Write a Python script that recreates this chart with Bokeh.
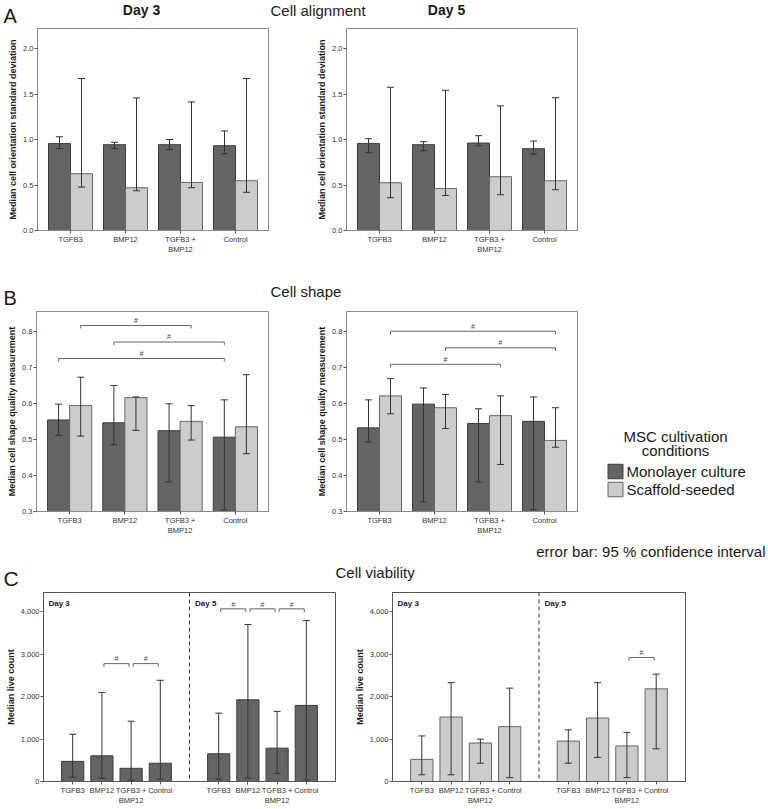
from bokeh.plotting import figure
from bokeh.models import (Range1d, FixedTicker, NumeralTickFormatter, ColumnDataSource,
                          Whisker, TeeHead, Span)
from bokeh.layouts import column, row
from bokeh.embed import file_html
from bokeh.resources import INLINE
from bokeh.core.properties import value

FONT = "Liberation Sans"
DARK = "#646464"
LIGHT = "#cccccc"
DARK_LINE = "#3c3c3c"
LIGHT_LINE = "#666666"
ERR = "#333333"

# ---------------- data ----------------
categories = ["TGFB3", "BMP12", "TGFB3 +\nBMP12", "Control"]
series = ["Monolayer culture", "Scaffold-seeded"]

# A: cell alignment (median cell orientation SD)
align_d3_mono = [0.955, 0.943, 0.943, 0.932]
align_d3_mono_lo = [0.90, 0.90, 0.89, 0.844]
align_d3_mono_hi = [1.03, 0.97, 1.00, 1.094]
align_d3_scaf = [0.624, 0.47, 0.528, 0.547]
align_d3_scaf_lo = [0.477, 0.437, 0.47, 0.42]
align_d3_scaf_hi = [1.67, 1.457, 1.413, 1.67]

align_d5_mono = [0.957, 0.943, 0.961, 0.899]
align_d5_mono_lo = [0.855, 0.877, 0.932, 0.84]
align_d5_mono_hi = [1.009, 0.976, 1.042, 0.983]
align_d5_scaf = [0.525, 0.462, 0.591, 0.547]
align_d5_scaf_lo = [0.36, 0.385, 0.393, 0.448]
align_d5_scaf_hi = [1.574, 1.541, 1.369, 1.46]

# B: cell shape quality
shape_d3_mono = [0.555, 0.547, 0.525, 0.507]
shape_d3_mono_lo = [0.512, 0.486, 0.383, 0.304]
shape_d3_mono_hi = [0.599, 0.651, 0.600, 0.611]
shape_d3_scaf = [0.595, 0.617, 0.551, 0.536]
shape_d3_scaf_lo = [0.51, 0.526, 0.499, 0.461]
shape_d3_scaf_hi = [0.674, 0.619, 0.595, 0.681]

shape_d5_mono = [0.533, 0.599, 0.545, 0.551]
shape_d5_mono_lo = [0.494, 0.327, 0.382, 0.305]
shape_d5_mono_hi = [0.611, 0.644, 0.586, 0.619]
shape_d5_scaf = [0.622, 0.589, 0.567, 0.498]
shape_d5_scaf_lo = [0.572, 0.531, 0.431, 0.479]
shape_d5_scaf_hi = [0.670, 0.626, 0.622, 0.589]

# significance brackets: (category from, series from, category to, series to, height)
shape_d3_sig = [(0, 1, 2, 1, 0.818), (1, 0, 3, 0, 0.772), (0, 0, 3, 0, 0.726)]
shape_d5_sig = [(0, 1, 3, 1, 0.802), (1, 1, 3, 1, 0.756), (0, 1, 2, 1, 0.710)]

# C: cell viability (median live count)
live_mono_d3 = [474, 604, 311, 430]
live_mono_d3_lo = [100, 75, 30, 53]
live_mono_d3_hi = [1112, 2098, 1420, 2383]
live_mono_d5 = [653, 1924, 785, 1791]
live_mono_d5_lo = [53, 80, 190, 34]
live_mono_d5_hi = [1609, 3697, 1651, 3792]

live_scaf_d3 = [521, 1518, 906, 1292]
live_scaf_d3_lo = [158, 158, 430, 91]
live_scaf_d3_hi = [1073, 2327, 997, 2198]
live_scaf_d5 = [952, 1495, 838, 2181]
live_scaf_d5_lo = [430, 566, 91, 770]
live_scaf_d5_hi = [1216, 2327, 1155, 2528]

# (day index, category from, category to, height)
live_mono_sig = [(0, 1, 2, 2775), (0, 2, 3, 2775), (1, 0, 1, 4065), (1, 1, 2, 4065), (1, 2, 3, 4065)]
live_scaf_sig = [(1, 2, 3, 2921)]

days = ["Day 3", "Day 5"]


# ---------------- helpers ----------------
def style_axes(p, ylabel):
    p.xgrid.visible = False
    p.ygrid.visible = False
    p.outline_line_color = "#8a8a8a"
    p.background_fill_color = "white"
    p.border_fill_color = "white"
    for ax in (p.xaxis[0], p.yaxis[0]):
        ax.axis_line_color = "#8a8a8a"
        ax.major_tick_line_color = "#555555"
        ax.major_tick_out = 3
        ax.major_tick_in = 0
        ax.minor_tick_line_color = None
        ax.major_label_text_font = FONT
        ax.major_label_text_font_size = "7.5px"
        ax.major_label_text_color = "#333333"
        ax.major_label_standoff = 1
    p.yaxis.axis_label = ylabel
    p.yaxis.axis_label_text_font = FONT
    p.yaxis.axis_label_text_font_style = "bold"
    p.yaxis.axis_label_text_font_size = "9px"
    p.yaxis.axis_label_text_color = "#1a1a1a"
    p.yaxis.axis_label_standoff = 2


def add_bars(p, xs, vals, lo, hi, width, fill, line):
    src = ColumnDataSource(dict(x=xs, top=vals, lo=lo, hi=hi))
    p.vbar(x="x", top="top", width=width, source=src, fill_color=fill, line_color=line, line_width=1)
    p.add_layout(Whisker(source=src, base="x", upper="hi", lower="lo", level="overlay",
                         line_color=ERR, line_width=1,
                         upper_head=TeeHead(size=7, line_color=ERR, line_width=1),
                         lower_head=TeeHead(size=7, line_color=ERR, line_width=1)))


def add_brackets(p, x1s, x2s, hs, tick, dy):
    xs = [[a, a, b, b] for a, b in zip(x1s, x2s)]
    ys = [[h - tick, h, h, h - tick] for h in hs]
    p.multi_line(xs=xs, ys=ys, line_color="#666666", line_width=1)
    p.text(x=[(a + b) / 2 for a, b in zip(x1s, x2s)], y=[h + dy for h in hs],
           text=["#"] * len(hs), text_font=value(FONT), text_font_size="7px",
           text_color="#444444", text_align="center", text_baseline="middle")


def grouped_panel(width, height, mbl, mbr, mbt, mbb, y0, y1, yticks, ylabel,
                  mono, mono_lo, mono_hi, scaf, scaf_lo, scaf_hi, sig=None):
    p = figure(width=width, height=height, x_range=Range1d(0.4, 4.6), y_range=Range1d(y0, y1),
               output_backend="svg", toolbar_location=None,
               min_border_left=mbl, min_border_right=mbr, min_border_top=mbt, min_border_bottom=mbb)
    style_axes(p, ylabel)
    pos = [i + 1 for i in range(len(categories))]
    offs = [-0.2, 0.2]
    add_bars(p, [x + offs[0] for x in pos], mono, mono_lo, mono_hi, 0.4, DARK, DARK_LINE)
    add_bars(p, [x + offs[1] for x in pos], scaf, scaf_lo, scaf_hi, 0.4, LIGHT, LIGHT_LINE)
    p.xaxis.ticker = FixedTicker(ticks=pos)
    p.xaxis.major_label_overrides = {x: c for x, c in zip(pos, categories)}
    p.yaxis.ticker = FixedTicker(ticks=yticks)
    p.yaxis.formatter = NumeralTickFormatter(format="0.0")
    if sig:
        x1s = [pos[c1] + offs[s1] for c1, s1, c2, s2, h in sig]
        x2s = [pos[c2] + offs[s2] for c1, s1, c2, s2, h in sig]
        hs = [h for *_, h in sig]
        add_brackets(p, x1s, x2s, hs, 0.0085, 0.014)
    return p


def live_panel(width, height, mbl, mbr, mbt, mbb, fill, line,
               d3, d3_lo, d3_hi, d5, d5_lo, d5_hi, sig):
    p = figure(width=width, height=height, x_range=Range1d(0, 10), y_range=Range1d(0, 4450),
               output_backend="svg", toolbar_location=None,
               min_border_left=mbl, min_border_right=mbr, min_border_top=mbt, min_border_bottom=mbb)
    style_axes(p, "Median live count")
    p.outline_line_color = "#555555"
    p.xaxis.axis_line_color = "#555555"
    p.yaxis.axis_line_color = "#555555"
    n = len(categories)
    pos = [[i + 1 + 5 * d for i in range(n)] for d in range(2)]
    add_bars(p, pos[0], d3, d3_lo, d3_hi, 0.76, fill, line)
    add_bars(p, pos[1], d5, d5_lo, d5_hi, 0.76, fill, line)
    p.add_layout(Span(location=5, dimension="height", line_dash="4 3", line_color="#333333", line_width=1))
    ticks = pos[0] + pos[1]
    p.xaxis.ticker = FixedTicker(ticks=ticks)
    p.xaxis.major_label_overrides = {x: c for x, c in zip(ticks, categories + categories)}
    p.yaxis.ticker = FixedTicker(ticks=[0, 1000, 2000, 3000, 4000])
    p.yaxis.formatter = NumeralTickFormatter(format="0,0")
    p.text(x=[0.17, 5.19], y=[4200, 4200], text=days, text_font=value(FONT),
           text_font_style="bold", text_font_size="8px", text_color="#1a1a1a",
           text_align="left", text_baseline="middle")
    if sig:
        x1s = [pos[d][c1] + 0.07 for d, c1, c2, h in sig]
        x2s = [pos[d][c2] - 0.07 for d, c1, c2, h in sig]
        hs = [h for *_, h in sig]
        add_brackets(p, x1s, x2s, hs, 75, 110)
    return p


def blank(width, height, x0, x1, ytop, ybot, mbt=0, mbb=0):
    p = figure(width=width, height=height, x_range=Range1d(x0, x1), y_range=Range1d(ybot, ytop),
               output_backend="svg", toolbar_location=None, x_axis_type=None, y_axis_type=None,
               min_border_left=0, min_border_right=0, min_border_top=mbt, min_border_bottom=mbb)
    p.grid.visible = False
    p.outline_line_color = None
    p.border_fill_color = "white"
    return p


def put_text(p, x, y, t, size, align="left", bold=False, color="#1a1a1a", baseline="middle"):
    p.text(x=[x], y=[y], text=[t], text_font=value(FONT), text_font_size=size,
           text_font_style="bold" if bold else "normal", text_color=color,
           text_align=align, text_baseline=baseline)


W = 766
# ---------------- headers (page pixel coordinates) ----------------
hA = blank(W, 27, 0, W, 0, 27)
put_text(hA, 3, 15, "A", "20px")
put_text(hA, 141, 9, days[0], "14px", "center", True)
put_text(hA, 446, 9, days[1], "14px", "center", True)
put_text(hA, 270, 10, "Cell alignment", "15px")

hB = blank(W, 30, 0, W, 280, 310)
put_text(hB, 3, 297.5, "B", "20px")
put_text(hB, 270, 291, "Cell shape", "15px")

hC = blank(W, 52, 0, W, 539, 591)
put_text(hC, 765, 551, "error bar: 95 % confidence interval", "15px", "right")
put_text(hC, 3, 577.5, "C", "21px")
put_text(hC, 335, 571.5, "Cell viability", "15px")

# ---------------- row A ----------------
ylab_a = "Median cell orientation standard deviation"
a_ticks = [0, 0.5, 1.0, 1.5, 2.0]
pAL = grouped_panel(300, 253, 37, 32, 1, 50, 0, 2.22, a_ticks, ylab_a,
                    align_d3_mono, align_d3_mono_lo, align_d3_mono_hi,
                    align_d3_scaf, align_d3_scaf_lo, align_d3_scaf_hi)
pAR = grouped_panel(300, 253, 46, 23, 1, 50, 0, 2.22, a_ticks, ylab_a,
                    align_d5_mono, align_d5_mono_lo, align_d5_mono_hi,
                    align_d5_scaf, align_d5_scaf_lo, align_d5_scaf_hi)

# ---------------- row B ----------------
ylab_b = "Median cell shape quality measurement"
b_ticks = [0.3, 0.4, 0.5, 0.6, 0.7, 0.8]
pBL = grouped_panel(300, 229, 36, 32, 1, 28, 0.3, 0.857, b_ticks, ylab_b,
                    shape_d3_mono, shape_d3_mono_lo, shape_d3_mono_hi,
                    shape_d3_scaf, shape_d3_scaf_lo, shape_d3_scaf_hi, shape_d3_sig)
pBR = grouped_panel(300, 229, 46, 23, 1, 28, 0.3, 0.857, b_ticks, ylab_b,
                    shape_d5_mono, shape_d5_mono_lo, shape_d5_mono_hi,
                    shape_d5_scaf, shape_d5_scaf_lo, shape_d5_scaf_hi, shape_d5_sig)

# legend panel: frame spans the same pixels as the panels' frames (y 311..511)
leg = blank(W - 600, 229, 600, W, 311, 511, mbt=1, mbb=28)
put_text(leg, 675, 435.5, "MSC cultivation", "15px", "center")
put_text(leg, 675, 449.5, "conditions", "15px", "center")
leg.rect(x=[615, 615], y=[471, 489], width=15, height=14.5,
         fill_color=[DARK, LIGHT], line_color=[DARK_LINE, LIGHT_LINE])
leg.text(x=[626, 626], y=[471, 489], text=series, text_font=value(FONT), text_font_size="15px",
         text_color="#1a1a1a", text_align="left", text_baseline="middle")

# ---------------- row C ----------------
pCL = live_panel(340, 217, 43, 5, 1, 22, DARK, DARK_LINE,
                 live_mono_d3, live_mono_d3_lo, live_mono_d3_hi,
                 live_mono_d5, live_mono_d5_lo, live_mono_d5_hi, live_mono_sig)
pCR = live_panel(360, 217, 52, 15, 1, 22, LIGHT, LIGHT_LINE,
                 live_scaf_d3, live_scaf_d3_lo, live_scaf_d3_hi,
                 live_scaf_d5, live_scaf_d5_lo, live_scaf_d5_hi, live_scaf_sig)

layout = column(hA, row(pAL, pAR), hB, row(pBL, pBR, leg), hC, row(pCL, pCR), spacing=0)

open("out.html", "w").write(file_html(layout, INLINE))
